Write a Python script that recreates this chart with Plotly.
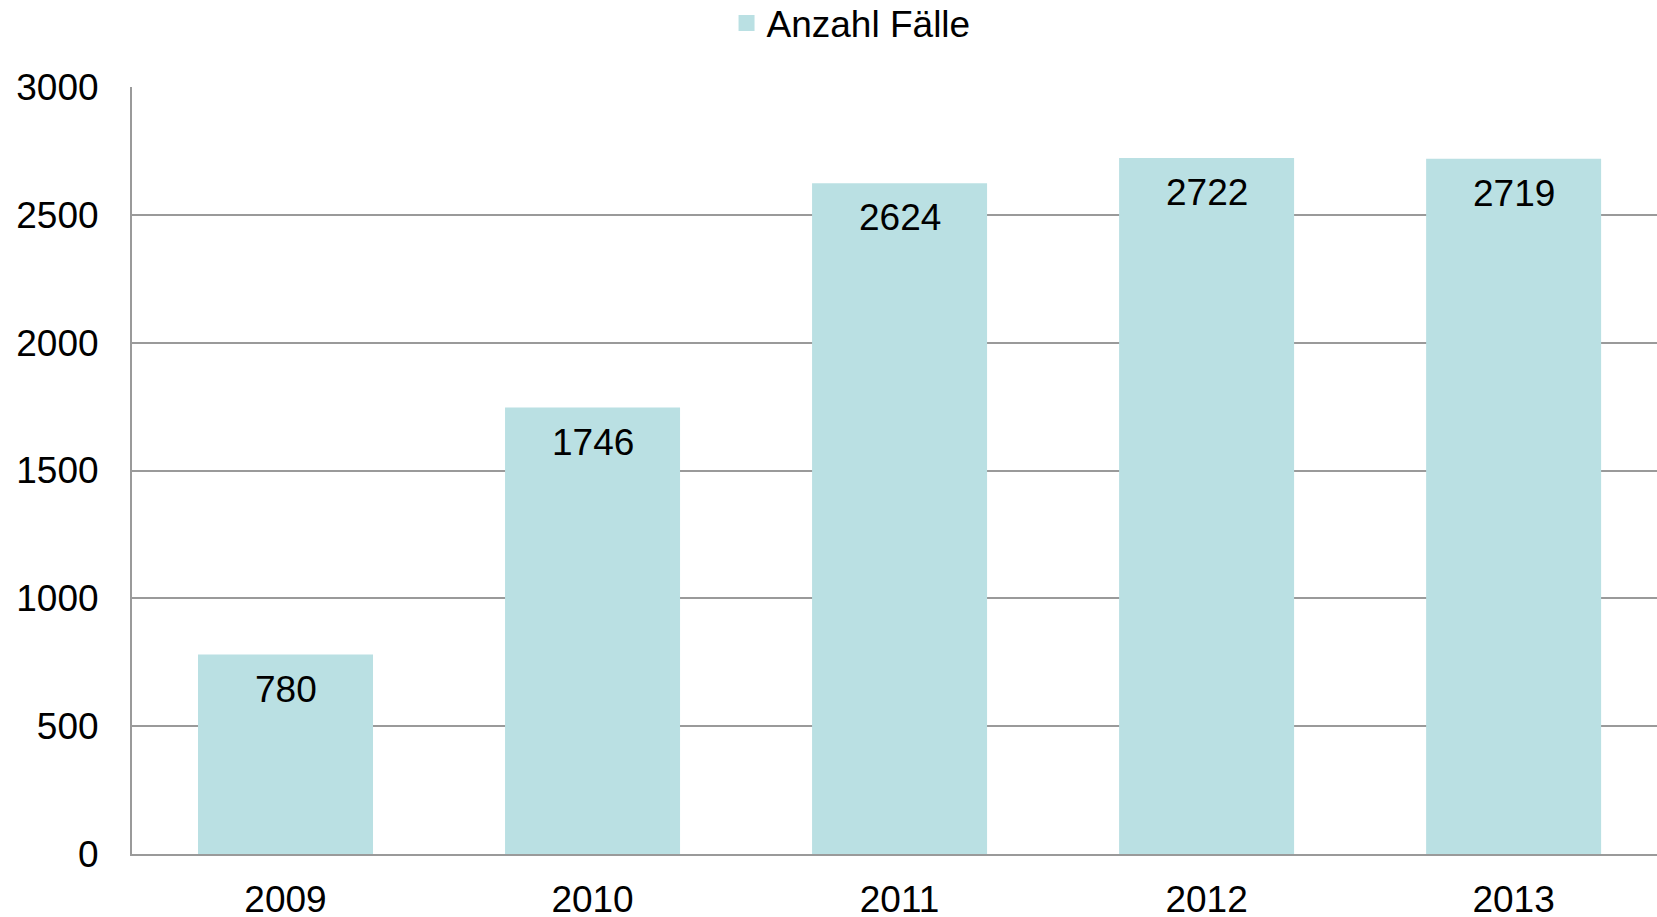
import plotly.graph_objects as go

categories = ["2009", "2010", "2011", "2012", "2013"]
values = [780, 1746, 2624, 2722, 2719]
y_ticks = [0, 500, 1000, 1500, 2000, 2500, 3000]
series_name = "Anzahl Fälle"

BAR = "#BAE0E3"
GRID = "#9a9a9a"
FONT = "Liberation Sans, Arial, sans-serif"
FS = 37

fig = go.Figure()
fig.add_trace(go.Bar(
    x=categories, y=values, name=series_name,
    marker=dict(color=BAR, line=dict(width=0)),
    showlegend=False,
))
# legend entry with a larger square swatch
fig.add_trace(go.Scatter(
    x=[None], y=[None], mode="markers", name=series_name,
    marker=dict(symbol="square", size=16, color=BAR),
    showlegend=True,
))

for i, v in enumerate(values):
    fig.add_annotation(x=i, y=v, xref="x", yref="y", text=str(v), showarrow=False,
                       yanchor="top", yshift=-12,
                       font=dict(family=FONT, size=FS, color="#000"))

fig.update_layout(
    width=1657, height=917,
    margin=dict(l=132, r=0, t=87, b=63, pad=0, autoexpand=False),
    paper_bgcolor="white", plot_bgcolor="white",
    bargap=0.43,
    font=dict(family=FONT, size=FS, color="#000"),
    legend=dict(orientation="h", x=0.4715, xanchor="center",
                y=1.083, yanchor="middle",
                font=dict(family=FONT, size=FS, color="#000"),
                itemsizing="trace", itemwidth=30,
                bgcolor="rgba(0,0,0,0)", tracegroupgap=0),
    xaxis=dict(type="category", range=[-0.5, 4.467], showgrid=False,
               showline=True, linecolor=GRID, linewidth=2,
               ticks="", ticklabelstandoff=12,
               tickfont=dict(family=FONT, size=FS, color="#000")),
    yaxis=dict(range=[0, 3000], tickvals=y_ticks, showgrid=True,
               gridcolor=GRID, gridwidth=2, zeroline=False,
               showline=True, linecolor=GRID, linewidth=2,
               ticks="", ticklabelstandoff=24,
               tickfont=dict(family=FONT, size=FS, color="#000")),
)

fig.write_html(
    "out.html",
    config={"displayModeBar": False},
    post_script="document.body.style.margin='0';document.body.style.overflow='hidden';",
)
